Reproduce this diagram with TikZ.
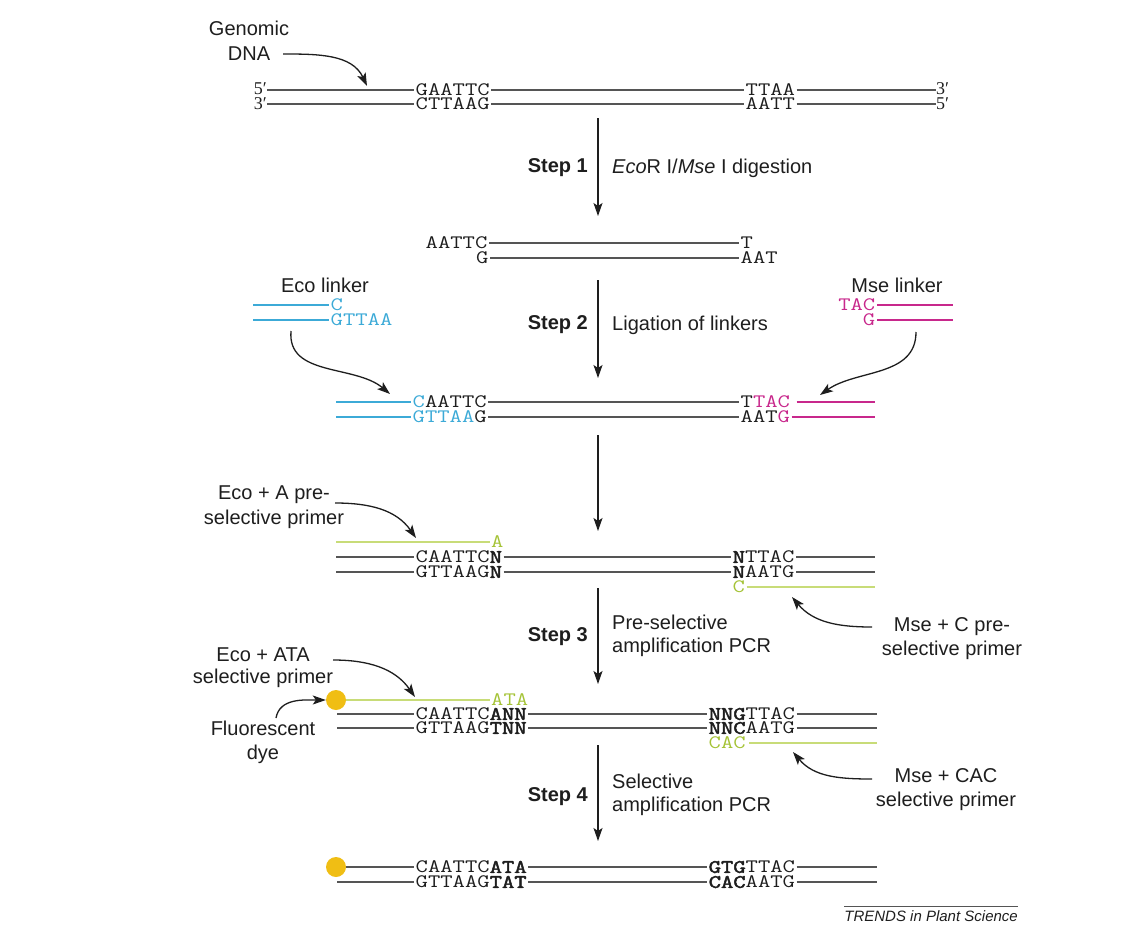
\documentclass[tikz,border=0pt]{standalone}
\usepackage{fontspec}
\usetikzlibrary{arrows.meta}
\newfontfamily\lblfont{Liberation Sans}
\newfontfamily\seqfont[FakeStretch=1.26, BoldFont={Latin Modern Mono}, BoldFeatures={FakeBold=2.5}]{Latin Modern Mono}
\newfontfamily\primefont{Liberation Serif}
\definecolor{strandgray}{RGB}{85,85,85}
\definecolor{ecoblue}{RGB}{60,170,215}
\definecolor{msemag}{RGB}{200,40,140}
\definecolor{primgreen}{RGB}{165,195,55}
\definecolor{primline}{RGB}{200,220,120}
\definecolor{dyegold}{RGB}{240,190,20}
\definecolor{txt}{RGB}{30,30,30}
\tikzset{
  seq/.style={font=\seqfont\fontsize{19}{19}\selectfont, inner xsep=1.5pt, inner ysep=0pt, anchor=west, text=txt},
  endlbl/.style={font=\primefont\fontsize{18}{18}\selectfont, inner sep=0pt, text=txt},
  strand/.style={draw=strandgray, line width=1.7pt},
  ecoline/.style={draw=ecoblue, line width=1.7pt},
  mseline/.style={draw=msemag, line width=1.7pt},
  primerline/.style={draw=primline, line width=1.7pt},
  lbl/.style={font=\lblfont\fontsize{20}{24}\selectfont, align=center, text=txt, inner sep=0pt},
  steplbl/.style={font=\lblfont\bfseries\fontsize{20}{24}\selectfont, anchor=east, text=txt, inner sep=0pt},
  desc/.style={font=\lblfont\fontsize{20}{23}\selectfont, anchor=west, align=left, text=txt, inner sep=0pt},
  arr/.style={draw=txt, line width=1.3pt, -{Stealth[length=13pt,width=9pt,inset=3pt]}},
  dyedot/.style={circle, fill=dyegold, minimum size=20pt, inner sep=0pt},
}
\begin{document}
\begin{tikzpicture}[x=1pt,y=-1pt]
\useasboundingbox (0,0) rectangle (1138,927);

% ---------- genomic DNA ----------
\node[lbl, font=\lblfont\fontsize{20}{25}\selectfont] (gdna) at (249,41) {Genomic\\DNA};
\coordinate (gtail) at (283,54);
\coordinate (gtip) at (367,86);
\draw[arr] (gtail) to[out=0,in=115] (gtip);

\node[endlbl, anchor=east] (p5a) at (267,89) {5\char"2032};
\node[endlbl, anchor=east] (p3a) at (267,104) {3\char"2032};
\node[seq] (g1) at (414,90) {GAATTC};
\node[seq] (g2) at (744,90) {TTAA};
\node[seq] (g3) at (414,104) {CTTAAG};
\node[seq] (g4) at (744,104) {AATT};
\node[endlbl, anchor=west] (p3b) at (936,89) {3\char"2032};
\node[endlbl, anchor=west] (p5b) at (936,104) {5\char"2032};
\draw[strand] (p5a.east |- g1.west) -- (g1.west);
\draw[strand] (g1.east) -- (g2.west);
\draw[strand] (g2.east) -- (p3b.west |- g2.east);
\draw[strand] (p3a.east |- g3.west) -- (g3.west);
\draw[strand] (g3.east) -- (g4.west);
\draw[strand] (g4.east) -- (p5b.west |- g4.east);

% ---------- step 1 ----------
\coordinate (a1s) at (598,118);
\coordinate (a1e) at (598,216);
\draw[arr] (a1s) -- (a1e);
\node[steplbl] (s1) at (588,168) {Step 1};
\node[desc] (d1l) at (612,168) {\textit{Eco}R I/\textit{Mse} I digestion};

\node[seq] (d1) at (424,243) {AATTC};
\node[seq] (d2) at (739,243) {T};
\node[seq] (d3) at (474.5,258) {G};
\node[seq] (d4) at (739,258) {AAT};
\draw[strand] (d1.east) -- (d2.west);
\draw[strand] (d3.east) -- (d4.west);

% ---------- step 2 ----------
\coordinate (a2s) at (598,280);
\coordinate (a2e) at (598,378);
\draw[arr] (a2s) -- (a2e);
\node[steplbl] (s2) at (588,325) {Step 2};
\node[desc] (d2l) at (612,325) {Ligation of linkers};

% Eco linker
\node[lbl] (ecol) at (325,285) {Eco linker};
\node[seq, text=ecoblue] (ec1) at (329,305) {C};
\node[seq, text=ecoblue] (ec2) at (329,320) {GTTAA};
\coordinate (ec1s) at (253,305);
\coordinate (ec2s) at (253,320);
\draw[ecoline] (ec1s) -- (ec1.west);
\draw[ecoline] (ec2s) -- (ec2.west);
\coordinate (ectail) at (291,331);
\coordinate (ectip) at (390,394);
\draw[arr] (ectail) to[out=-95,in=140] (ectip);

% Mse linker
\node[lbl] (msel) at (897,285) {Mse linker};
\node[seq, text=msemag, anchor=east] (ms1) at (877,305) {TAC};
\node[seq, text=msemag, anchor=east] (ms2) at (877,320) {G};
\coordinate (ms1e) at (953,305);
\coordinate (ms2e) at (953,320);
\draw[mseline] (ms1.east) -- (ms1e);
\draw[mseline] (ms2.east) -- (ms2e);
\coordinate (mstail) at (916,332);
\coordinate (mstip) at (820,395);
\draw[arr] (mstail) to[out=-90,in=35] (mstip);

% ligated
\node[seq] (l1) at (411,402) {{\color{ecoblue}C}AATTC};
\node[seq] (l2) at (739,402) {T{\color{msemag}TAC}};
\node[seq] (l3) at (411,417) {{\color{ecoblue}GTTAA}G};
\node[seq] (l4) at (739,417) {AAT{\color{msemag}G}};
\coordinate (l1s) at (336,402);
\coordinate (l3s) at (336,417);
\coordinate (l2e) at (875,402);
\coordinate (l4e) at (875,417);
\draw[ecoline] (l1s) -- (l1.west);
\draw[ecoline] (l3s) -- (l3.west);
\draw[strand] (l1.east) -- (l2.west);
\draw[strand] (l3.east) -- (l4.west);
\draw[mseline] ([xshift=5pt]l2.east) -- (l2e);
\draw[mseline] (l4.east) -- (l4e);

% ---------- unlabeled arrow ----------
\coordinate (a3s) at (598,435);
\coordinate (a3e) at (598,531);
\draw[arr] (a3s) -- (a3e);

% ---------- pre-selective ----------
\node[lbl, font=\lblfont\fontsize{20}{25}\selectfont] (ecoa) at (274,507.5) {Eco + A pre-\\selective primer};
\coordinate (eatail) at (335,503);
\coordinate (eatip) at (416,538);
\draw[arr] (eatail) to[out=0,in=125] (eatip);

\node[seq, text=primgreen] (pa) at (489.5,542) {A};
\coordinate (pas) at (336,542);
\draw[primerline] (pas) -- (pa.west);

\node[seq] (p1) at (414,557) {CAATTC\textbf{N}};
\node[seq] (p2) at (731,557) {\textbf{N}TTAC};
\node[seq] (p3) at (414,572) {GTTAAG\textbf{N}};
\node[seq] (p4) at (731,572) {\textbf{N}AATG};
\node[seq, text=primgreen] (pc) at (731,587) {C};
\coordinate (p1s) at (336,557);
\coordinate (p3s) at (336,572);
\coordinate (p2e) at (875,557);
\coordinate (p4e) at (875,572);
\coordinate (pce) at (875,587);
\draw[strand] (p1s) -- (p1.west);
\draw[strand] (p3s) -- (p3.west);
\draw[strand] (p1.east) -- (p2.west);
\draw[strand] (p3.east) -- (p4.west);
\draw[strand] (p2.east) -- (p2e);
\draw[strand] (p4.east) -- (p4e);
\draw[primerline] (pc.east) -- (pce);

\node[lbl] (msec) at (952,639) {Mse + C pre-\\selective primer};
\coordinate (mctail) at (872,627);
\coordinate (mctip) at (792,597);
\draw[arr] (mctail) to[out=180,in=-50] (mctip);

% ---------- step 3 ----------
\coordinate (a4s) at (598,588);
\coordinate (a4e) at (598,684);
\draw[arr] (a4s) -- (a4e);
\node[steplbl] (s3) at (588,637) {Step 3};
\node[desc] (d3l) at (612,636) {Pre-selective\\amplification PCR};

% ---------- selective ----------
\node[lbl, font=\lblfont\fontsize{20}{22}\selectfont] (ecoata) at (263,668) {Eco + ATA\\selective primer};
\coordinate (ettail) at (333,660);
\coordinate (ettip) at (415,697);
\draw[arr] (ettail) to[out=0,in=125] (ettip);

\node[dyedot] (dot1) at (336,700) {};
\node[seq, text=primgreen] (ata) at (489.5,700) {ATA};
\draw[primerline] (dot1.east) -- (ata.west);

\node[lbl] (fluo) at (263,742) {Fluorescent\\dye};
\coordinate (fltail) at (276,718);
\draw[arr] (fltail) to[out=80,in=180] (dot1.west);

\node[seq] (t1) at (414,714) {CAATTC\textbf{ANN}};
\node[seq] (t2) at (707,714) {\textbf{NNG}TTAC};
\node[seq] (t3) at (414,728) {GTTAAG\textbf{TNN}};
\node[seq] (t4) at (707,728) {\textbf{NNC}AATG};
\node[seq, text=primgreen] (cac) at (707,743) {CAC};
\coordinate (t1s) at (337,714);
\coordinate (t3s) at (337,728);
\coordinate (t2e) at (877,714);
\coordinate (t4e) at (877,728);
\coordinate (cace) at (877,743);
\draw[strand] (t1s) -- (t1.west);
\draw[strand] (t3s) -- (t3.west);
\draw[strand] (t1.east) -- (t2.west);
\draw[strand] (t3.east) -- (t4.west);
\draw[strand] (t2.east) -- (t2e);
\draw[strand] (t4.east) -- (t4e);
\draw[primerline] ([xshift=2pt]cac.east) -- (cace);

\node[lbl] (msecac) at (946,790) {Mse + CAC\\selective primer};
\coordinate (mttail) at (872,779);
\coordinate (mttip) at (793,752);
\draw[arr] (mttail) to[out=180,in=-50] (mttip);

% ---------- step 4 ----------
\coordinate (a5s) at (598,745);
\coordinate (a5e) at (598,841);
\draw[arr] (a5s) -- (a5e);
\node[steplbl] (s4) at (588,797) {Step 4};
\node[desc] (d4l) at (612,795) {Selective\\amplification PCR};

% ---------- final ----------
\node[dyedot] (dot2) at (336,867) {};
\node[seq] (f1) at (414,867) {CAATTC\textbf{ATA}};
\node[seq] (f2) at (707,867) {\textbf{GTG}TTAC};
\node[seq] (f3) at (414,882) {GTTAAG\textbf{TAT}};
\node[seq] (f4) at (707,882) {\textbf{CAC}AATG};
\coordinate (f3s) at (337,882);
\coordinate (f2e) at (877,867);
\coordinate (f4e) at (877,882);
\draw[strand] (dot2.east) -- (f1.west);
\draw[strand] (f3s) -- (f3.west);
\draw[strand] (f1.east) -- (f2.west);
\draw[strand] (f3.east) -- (f4.west);
\draw[strand] (f2.east) -- (f2e);
\draw[strand] (f4.east) -- (f4e);

% ---------- credit ----------
\node[font=\lblfont\itshape\fontsize{15}{15}\selectfont, anchor=east, text=txt, inner sep=0pt] (trends) at (1018,916) {TRENDS in Plant Science};
\draw[strandgray, line width=0.8pt] ([yshift=4pt]trends.north west) -- ([yshift=4pt]trends.north east);
\end{tikzpicture}
\end{document}
